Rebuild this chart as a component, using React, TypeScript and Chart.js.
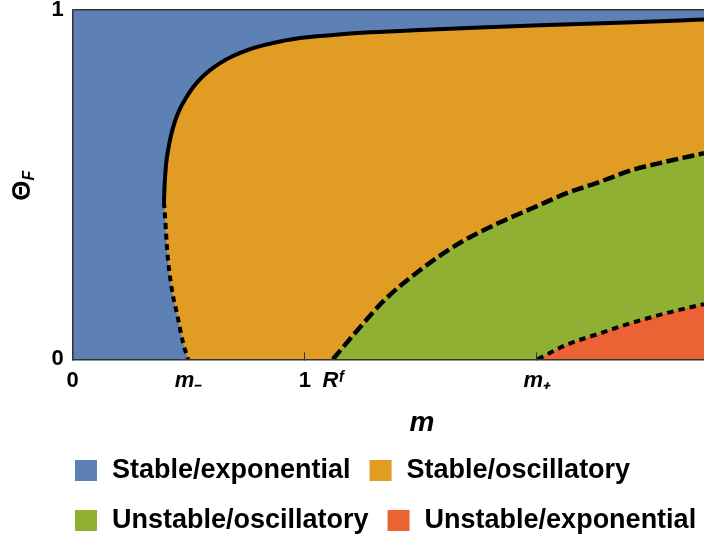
import React, { useEffect, useRef } from 'react';
import { Chart, registerables } from 'chart.js';

Chart.register(...registerables);

const FONT = "'Liberation Sans', Arial, Helvetica, sans-serif";

// Axis ranges and ticks
const X_MAX = 2.72;
const xTickValues = [0, 0.497, 1, 1.121, 2.0];
const xTickLabels = ['0', 'm₋', '1', 'Rᶠ', 'm₊'];
const xTickItalic = [false, true, false, true, true];
const xTickMarkShown = [false, false, true, false, true];
const yTickValues = [0, 1];
const yTickLabels = ['0', '1'];
const xTitle = 'm';
const yTitleMain = 'Θ';
const yTitleSub = 'F';

// Regions (legend order)
const regionLabels = ['Stable/exponential', 'Stable/oscillatory', 'Unstable/oscillatory', 'Unstable/exponential'];
const regionColors = ['#5E81B5', '#E19C24', '#8FB032', '#EB6235'];

// Boundary: stable exponential / stable oscillatory (solid upper branch)
const solidM = [0.393, 0.396, 0.402, 0.411, 0.424, 0.441, 0.462, 0.488, 0.518, 0.553, 0.592, 0.635, 0.686, 0.747, 0.816, 0.893, 0.979, 1.109, 1.281, 1.496, 1.755, 2.013, 2.315, 2.617, 2.72];
const solidTheta = [0.450, 0.499, 0.556, 0.599, 0.642, 0.682, 0.717, 0.748, 0.778, 0.805, 0.828, 0.848, 0.867, 0.884, 0.898, 0.910, 0.920, 0.928, 0.936, 0.943, 0.950, 0.956, 0.963, 0.970, 0.973];

// Boundary: lower (dotted) branch down to m-
const lowerM = [0.393, 0.398, 0.407, 0.423, 0.452, 0.476, 0.497];
const lowerTheta = [0.450, 0.408, 0.313, 0.218, 0.122, 0.046, 0.0];

// Boundary: stable / unstable oscillatory (dashed) from R^f
const oscM = [1.121, 1.224, 1.344, 1.496, 1.667, 1.847, 1.982, 2.126, 2.270, 2.412, 2.557, 2.72];
const oscTheta = [0.0, 0.081, 0.170, 0.255, 0.333, 0.394, 0.433, 0.475, 0.508, 0.542, 0.566, 0.590];

// Boundary: unstable oscillatory / unstable exponential (dotted) from m+
const expM = [2.003, 2.126, 2.270, 2.413, 2.557, 2.72];
const expTheta = [0.0, 0.041, 0.074, 0.105, 0.132, 0.158];

const pts = (xs: number[], ys: number[]) => xs.map((x, i) => ({ x, y: ys[i] }));

const titlesPlugin = {
  id: 'axisTitles',
  afterDraw(chart: any) {
    const { ctx, chartArea } = chart;
    const cy = (chartArea.top + chartArea.bottom) / 2;
    ctx.save();
    ctx.fillStyle = '#000';
    ctx.textAlign = 'center';
    ctx.textBaseline = 'middle';
    // x title
    ctx.font = `italic bold 28px ${FONT}`;
    ctx.fillText(xTitle, 422, chartArea.bottom + 63.5);
    // y title (rotated, with subscript)
    ctx.translate(23, cy + 6);
    ctx.rotate(-Math.PI / 2);
    ctx.font = `bold 26px ${FONT}`;
    ctx.fillText(yTitleMain, 0, 0);
    ctx.font = `italic bold 16px ${FONT}`;
    ctx.fillText(yTitleSub, 15, 7);
    ctx.restore();
  },
};

const legendPlugin = {
  id: 'regionLegend',
  afterDraw(chart: any) {
    const { ctx } = chart;
    ctx.save();
    ctx.font = `bold 27px ${FONT}`;
    ctx.textAlign = 'left';
    ctx.textBaseline = 'alphabetic';
    const rows = [[0, 1], [2, 3]];
    rows.forEach((row, r) => {
      let x = 75;
      const boxTop = 460 + r * 50;
      const baseline = 477.5 + r * 50;
      row.forEach((i) => {
        ctx.fillStyle = regionColors[i];
        ctx.fillRect(x, boxTop, 22, 21);
        x += 22 + 15;
        ctx.fillStyle = '#000';
        ctx.fillText(regionLabels[i], x, baseline);
        x += ctx.measureText(regionLabels[i]).width + 19;
      });
    });
    ctx.restore();
  },
};

export default function App() {
  const canvasRef = useRef<HTMLCanvasElement | null>(null);

  useEffect(() => {
    if (!canvasRef.current) return;
    const none = 'rgba(0,0,0,0)';
    const curve = { pointRadius: 0, cubicInterpolationMode: 'monotone' };
    const lineBase = { ...curve, fill: false, borderColor: '#000', backgroundColor: none, borderCapStyle: 'butt' };
    const regionBase = { ...curve, borderWidth: 0, borderColor: none, fill: 'origin' };

    const chart = new Chart(canvasRef.current, {
      type: 'line',
      data: {
        datasets: [
          { ...lineBase, label: 'boundary-solid', data: pts(solidM, solidTheta), borderWidth: 4 },
          { ...lineBase, label: 'boundary-lower', data: pts(lowerM, lowerTheta), borderWidth: 4, borderDash: [6, 4.5] },
          { ...lineBase, label: 'boundary-osc', data: pts(oscM, oscTheta), borderWidth: 4.5, borderDash: [12, 4.5] },
          { ...lineBase, label: 'boundary-exp', data: pts(expM, expTheta), borderWidth: 4, borderDash: [6.5, 5] },
          { ...regionBase, label: regionLabels[3], data: pts(expM, expTheta), backgroundColor: regionColors[3] },
          { ...regionBase, label: regionLabels[2], data: pts(oscM, oscTheta), backgroundColor: regionColors[2] },
          { ...regionBase, label: regionLabels[0] + ' (lower)', data: pts(lowerM, lowerTheta), backgroundColor: regionColors[0] },
          { ...regionBase, label: regionLabels[1], data: pts(solidM, solidTheta), backgroundColor: regionColors[1] },
          { ...regionBase, label: regionLabels[0], data: [{ x: 0, y: 1 }, { x: X_MAX, y: 1 }], backgroundColor: regionColors[0] },
        ] as any,
      },
      options: {
        animation: false,
        responsive: true,
        maintainAspectRatio: false,
        devicePixelRatio: 1,
        events: [],
        layout: { padding: { left: 0, right: 0, top: 0, bottom: 110 } },
        scales: {
          x: {
            type: 'linear',
            min: 0,
            max: X_MAX,
            afterBuildTicks: (s: any) => { s.ticks = xTickValues.map((v) => ({ value: v })); },
            afterFit: (s: any) => { s.height = 72.7; s.paddingLeft = 0; s.paddingRight = 0; },
            ticks: {
              autoSkip: false,
              maxRotation: 0,
              padding: 15,
              color: '#000',
              callback: (_v: any, i: number) => xTickLabels[i],
              font: (c: any) => ({ size: 22, weight: 'bold', style: xTickItalic[c.index] ? 'italic' : 'normal', family: FONT, lineHeight: 1.2 }),
            },
            grid: {
              drawOnChartArea: false,
              drawTicks: true,
              tickLength: -7,
              tickWidth: 1,
              tickColor: (c: any) => (xTickMarkShown[c.index] ? '#333' : none),
              z: 1,
            },
            border: { display: true, color: '#333', width: 1.5, z: 1 },
            title: { display: false },
          },
          y: {
            type: 'linear',
            min: 0,
            max: 1,
            afterBuildTicks: (s: any) => { s.ticks = yTickValues.map((v) => ({ value: v })); },
            afterFit: (s: any) => { s.width = 72.7; s.paddingTop = 10; s.paddingBottom = 0; },
            ticks: {
              padding: 9,
              color: '#000',
              callback: (_v: any, i: number) => yTickLabels[i],
              font: { size: 22, weight: 'bold', family: FONT, lineHeight: 0.9 },
            },
            grid: {
              drawTicks: false,
              drawOnChartArea: true,
              color: (c: any) => (c.tick && c.tick.value === 1 ? '#333' : none),
              lineWidth: 1.5,
              z: 1,
            },
            border: { display: true, color: '#333', width: 1.5, z: 1 },
          },
        },
        plugins: {
          tooltip: { enabled: false },
          title: { display: false },
          legend: { display: false },
        },
      } as any,
      plugins: [titlesPlugin, legendPlugin],
    });

    return () => chart.destroy();
  }, []);

  return (
    <div style={{ position: 'absolute', left: 0, top: 0, width: 704, height: 542, background: '#fff' }}>
      <canvas ref={canvasRef} />
    </div>
  );
}
